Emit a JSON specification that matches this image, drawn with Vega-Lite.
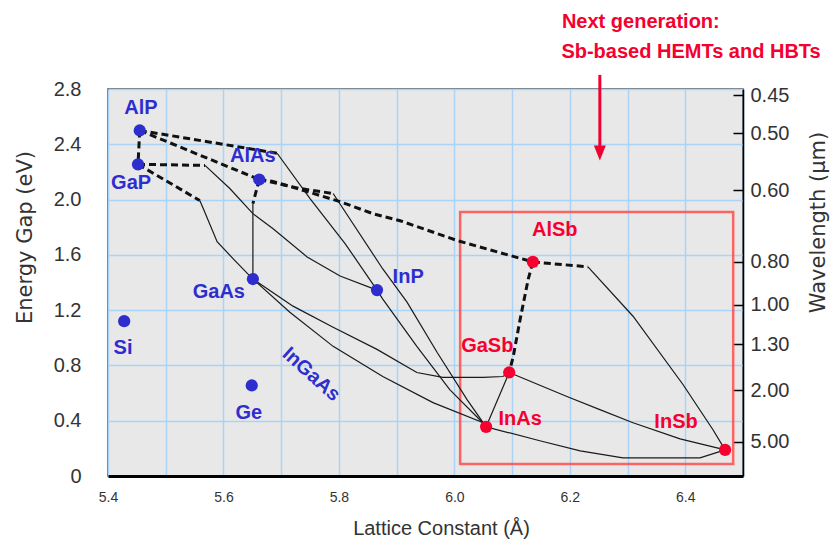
{
  "$schema": "https://vega.github.io/schema/vega-lite/v6.json",
  "width": 635,
  "height": 387,
  "autosize": {"type": "none"},
  "padding": {"left": 108, "top": 89, "right": 88, "bottom": 69},
  "background": "white",
  "config": {
    "view": {"fill": "#e8e8e8", "stroke": "#444444", "strokeWidth": 1.5},
    "font": "Liberation Sans"
  },
  "datasets": {
    "points": [
      {"name": "AlP", "x": 5.455, "y": 2.50, "group": "classic"},
      {"name": "GaP", "x": 5.452, "y": 2.255, "group": "classic"},
      {"name": "AlAs", "x": 5.662, "y": 2.145, "group": "classic"},
      {"name": "GaAs", "x": 5.651, "y": 1.425, "group": "classic"},
      {"name": "InP", "x": 5.866, "y": 1.345, "group": "classic"},
      {"name": "Si", "x": 5.428, "y": 1.12, "group": "classic"},
      {"name": "Ge", "x": 5.649, "y": 0.655, "group": "classic"},
      {"name": "AlSb", "x": 6.136, "y": 1.549, "group": "next"},
      {"name": "GaSb", "x": 6.095, "y": 0.749, "group": "next"},
      {"name": "InAs", "x": 6.055, "y": 0.356, "group": "next"},
      {"name": "InSb", "x": 6.469, "y": 0.189, "group": "next"}
    ],
    "labels": [
      {"text": "AlP", "x": 5.457, "y": 2.663, "group": "classic"},
      {"text": "GaP", "x": 5.440, "y": 2.12, "group": "classic"},
      {"text": "AlAs", "x": 5.651, "y": 2.315, "group": "classic"},
      {"text": "GaAs", "x": 5.592, "y": 1.331, "group": "classic"},
      {"text": "InP", "x": 5.920, "y": 1.44, "group": "classic"},
      {"text": "Si", "x": 5.426, "y": 0.926, "group": "classic"},
      {"text": "Ge", "x": 5.644, "y": 0.456, "group": "classic"},
      {"text": "AlSb", "x": 6.174, "y": 1.78, "group": "next"},
      {"text": "GaSb", "x": 6.057, "y": 0.941, "group": "next"},
      {"text": "InAs", "x": 6.114, "y": 0.412, "group": "next"},
      {"text": "InSb", "x": 6.384, "y": 0.391, "group": "next"}
    ],
    "alloy": [{"text": "InGaAs", "x": 5.752, "y": 0.735, "group": "classic"}],
    "box": [{"x": 6.01, "x2": 6.483, "y": 0.087, "y2": 1.91}],
    "notes": [
      {"text": "Next generation:", "x": 6.323, "y": 3.285},
      {"text": "Sb-based HEMTs and HBTs", "x": 6.41, "y": 3.068}
    ],
    "arrow": [{"x": 6.252, "y": 2.902, "y2": 2.381}],
    "arrowhead": [{"x": 6.252, "y": 2.337}],
    "axisRange": [{"y": 0}, {"y": 2.8}],
    "thin": [
      {"curve": "AlInP", "o": 1, "x": 5.693, "y": 2.335},
      {"curve": "AlInP", "o": 2, "x": 5.750, "y": 2.007},
      {"curve": "AlInP", "o": 3, "x": 5.811, "y": 1.68},
      {"curve": "AlInP", "o": 4, "x": 5.866, "y": 1.345},
      {"curve": "AlInAs", "o": 1, "x": 5.790, "y": 2.044},
      {"curve": "AlInAs", "o": 2, "x": 5.876, "y": 1.498},
      {"curve": "AlInAs", "o": 3, "x": 5.918, "y": 1.258},
      {"curve": "AlInAs", "o": 4, "x": 5.970, "y": 0.895},
      {"curve": "AlInAs", "o": 5, "x": 6.022, "y": 0.553},
      {"curve": "AlInAs", "o": 6, "x": 6.055, "y": 0.356},
      {"curve": "InAsP", "o": 1, "x": 5.866, "y": 1.345},
      {"curve": "InAsP", "o": 2, "x": 5.876, "y": 1.28},
      {"curve": "InAsP", "o": 3, "x": 5.935, "y": 0.938},
      {"curve": "InAsP", "o": 4, "x": 5.992, "y": 0.625},
      {"curve": "InAsP", "o": 5, "x": 6.044, "y": 0.407},
      {"curve": "InAsP", "o": 6, "x": 6.055, "y": 0.356},
      {"curve": "GaInP", "o": 1, "x": 5.568, "y": 2.247},
      {"curve": "GaInP", "o": 2, "x": 5.611, "y": 2.08},
      {"curve": "GaInP", "o": 3, "x": 5.651, "y": 1.898},
      {"curve": "GaInP", "o": 4, "x": 5.686, "y": 1.789},
      {"curve": "GaInP", "o": 5, "x": 5.745, "y": 1.585},
      {"curve": "GaInP", "o": 6, "x": 5.802, "y": 1.447},
      {"curve": "GaInP", "o": 7, "x": 5.866, "y": 1.345},
      {"curve": "GaAsP", "o": 1, "x": 5.559, "y": 1.993},
      {"curve": "GaAsP", "o": 2, "x": 5.565, "y": 1.935},
      {"curve": "GaAsP", "o": 3, "x": 5.589, "y": 1.695},
      {"curve": "GaAsP", "o": 4, "x": 5.617, "y": 1.571},
      {"curve": "GaAsP", "o": 5, "x": 5.651, "y": 1.425},
      {"curve": "AlGaAs", "o": 1, "x": 5.651, "y": 1.971},
      {"curve": "AlGaAs", "o": 2, "x": 5.651, "y": 1.425},
      {"curve": "GaAsSb", "o": 1, "x": 5.651, "y": 1.425},
      {"curve": "GaAsSb", "o": 2, "x": 5.7205, "y": 1.229},
      {"curve": "GaAsSb", "o": 3, "x": 5.790, "y": 1.076},
      {"curve": "GaAsSb", "o": 4, "x": 5.866, "y": 0.916},
      {"curve": "GaAsSb", "o": 5, "x": 5.935, "y": 0.749},
      {"curve": "GaAsSb", "o": 6, "x": 5.980, "y": 0.713},
      {"curve": "GaAsSb", "o": 7, "x": 6.050, "y": 0.713},
      {"curve": "GaAsSb", "o": 8, "x": 6.084, "y": 0.72},
      {"curve": "GaAsSb", "o": 9, "x": 6.095, "y": 0.749},
      {"curve": "InGaAs", "o": 1, "x": 5.651, "y": 1.425},
      {"curve": "InGaAs", "o": 2, "x": 5.715, "y": 1.185},
      {"curve": "InGaAs", "o": 3, "x": 5.790, "y": 0.938},
      {"curve": "InGaAs", "o": 4, "x": 5.876, "y": 0.72},
      {"curve": "InGaAs", "o": 5, "x": 5.963, "y": 0.531},
      {"curve": "InGaAs", "o": 6, "x": 6.050, "y": 0.385},
      {"curve": "InGaAs", "o": 7, "x": 6.055, "y": 0.356},
      {"curve": "GaSb-InAs", "o": 1, "x": 6.095, "y": 0.749},
      {"curve": "GaSb-InAs", "o": 2, "x": 6.055, "y": 0.356},
      {"curve": "InAsSb", "o": 1, "x": 6.055, "y": 0.356},
      {"curve": "InAsSb", "o": 2, "x": 6.148, "y": 0.255},
      {"curve": "InAsSb", "o": 3, "x": 6.218, "y": 0.182},
      {"curve": "InAsSb", "o": 4, "x": 6.292, "y": 0.131},
      {"curve": "InAsSb", "o": 5, "x": 6.4255, "y": 0.131},
      {"curve": "InAsSb", "o": 6, "x": 6.469, "y": 0.189},
      {"curve": "GaInSb", "o": 1, "x": 6.095, "y": 0.749},
      {"curve": "GaInSb", "o": 2, "x": 6.195, "y": 0.575},
      {"curve": "GaInSb", "o": 3, "x": 6.252, "y": 0.48},
      {"curve": "GaInSb", "o": 4, "x": 6.3095, "y": 0.385},
      {"curve": "GaInSb", "o": 5, "x": 6.391, "y": 0.269},
      {"curve": "GaInSb", "o": 6, "x": 6.455, "y": 0.204},
      {"curve": "GaInSb", "o": 7, "x": 6.469, "y": 0.189},
      {"curve": "AlInSb", "o": 1, "x": 6.2315, "y": 1.513},
      {"curve": "AlInSb", "o": 2, "x": 6.3095, "y": 1.156},
      {"curve": "AlInSb", "o": 3, "x": 6.396, "y": 0.662},
      {"curve": "AlInSb", "o": 4, "x": 6.448, "y": 0.335},
      {"curve": "AlInSb", "o": 5, "x": 6.469, "y": 0.189}
    ],
    "dashed": [
      {"curve": "AlGaP", "o": 1, "x": 5.455, "y": 2.50},
      {"curve": "AlGaP", "o": 2, "x": 5.452, "y": 2.255},
      {"curve": "AlInP-ind", "o": 1, "x": 5.455, "y": 2.50},
      {"curve": "AlInP-ind", "o": 2, "x": 5.693, "y": 2.335},
      {"curve": "AlAsP", "o": 1, "x": 5.455, "y": 2.50},
      {"curve": "AlAsP", "o": 2, "x": 5.662, "y": 2.145},
      {"curve": "GaInP-ind", "o": 1, "x": 5.452, "y": 2.255},
      {"curve": "GaInP-ind", "o": 2, "x": 5.568, "y": 2.247},
      {"curve": "GaAsP-ind", "o": 1, "x": 5.452, "y": 2.255},
      {"curve": "GaAsP-ind", "o": 2, "x": 5.559, "y": 1.993},
      {"curve": "AlGaAs-ind", "o": 1, "x": 5.662, "y": 2.145},
      {"curve": "AlGaAs-ind", "o": 2, "x": 5.651, "y": 1.971},
      {"curve": "AlAsSb", "o": 1, "x": 5.662, "y": 2.145},
      {"curve": "AlAsSb", "o": 2, "x": 5.686, "y": 2.131},
      {"curve": "AlAsSb", "o": 3, "x": 5.745, "y": 2.058},
      {"curve": "AlAsSb", "o": 4, "x": 5.802, "y": 1.985},
      {"curve": "AlAsSb", "o": 5, "x": 5.859, "y": 1.898},
      {"curve": "AlAsSb", "o": 6, "x": 5.906, "y": 1.847},
      {"curve": "AlAsSb", "o": 7, "x": 6.006, "y": 1.702},
      {"curve": "AlAsSb", "o": 8, "x": 6.136, "y": 1.549},
      {"curve": "AlInAs-ind", "o": 1, "x": 5.662, "y": 2.145},
      {"curve": "AlInAs-ind", "o": 2, "x": 5.733, "y": 2.08},
      {"curve": "AlInAs-ind", "o": 3, "x": 5.790, "y": 2.044},
      {"curve": "AlInSb-ind", "o": 1, "x": 6.136, "y": 1.549},
      {"curve": "AlInSb-ind", "o": 2, "x": 6.2315, "y": 1.513},
      {"curve": "AlGaSb", "o": 1, "x": 6.136, "y": 1.549},
      {"curve": "AlGaSb", "o": 2, "x": 6.128, "y": 1.425},
      {"curve": "AlGaSb", "o": 3, "x": 6.114, "y": 1.135},
      {"curve": "AlGaSb", "o": 4, "x": 6.102, "y": 0.865},
      {"curve": "AlGaSb", "o": 5, "x": 6.095, "y": 0.749}
    ]
  },
  "layer": [
    {
      "encoding": {
        "x": {
          "field": "x",
          "type": "quantitative",
          "scale": {"domain": [5.4, 6.5], "nice": false, "zero": false},
          "axis": {
            "title": "Lattice Constant (Å)",
            "values": [5.4, 5.5, 5.6, 5.7, 5.8, 5.9, 6.0, 6.1, 6.2, 6.3, 6.4, 6.5],
            "labelExpr": "round(datum.value*10) % 2 == 0 ? format(datum.value, '.1f') : ''",
            "grid": true,
            "gridColor": "#a9d3f7",
            "gridWidth": 1.5,
            "gridOpacity": 1,
            "domain": true,
            "domainColor": "#000000",
            "domainWidth": 3,
            "ticks": false,
            "labelFont": "Liberation Sans",
            "labelFontSize": 14,
            "labelColor": "#333333",
            "labelPadding": 14,
            "labelDx": -11,
            "labelFlush": false,
            "labelOverlap": false,
            "labelBound": false,
            "titleFont": "Liberation Sans",
            "titleFontSize": 20,
            "titleFontWeight": "normal",
            "titleColor": "#333333",
            "titleX": 333,
            "titleY": 52,
            "titleAlign": "center",
            "titleBaseline": "middle"
          }
        },
        "y": {
          "field": "y",
          "type": "quantitative",
          "scale": {"domain": [0, 2.8], "nice": false, "zero": false},
          "axis": {
            "title": "Energy Gap (eV)",
            "values": [0, 0.4, 0.8, 1.2, 1.6, 2.0, 2.4, 2.8],
            "labelExpr": "datum.value == 0 ? '0' : format(datum.value, '.1f')",
            "grid": true,
            "gridColor": "#a9d3f7",
            "gridWidth": 1.5,
            "gridOpacity": 1,
            "domain": false,
            "ticks": false,
            "labelFont": "Liberation Sans",
            "labelFontSize": 20,
            "labelColor": "#333333",
            "labelPadding": 27,
            "labelDy": 2,
            "labelOverlap": false,
            "labelBound": false,
            "titleFont": "DejaVu Sans",
            "titleFontSize": 21,
            "titleFontWeight": "normal",
            "titleColor": "#333333",
            "titleX": -83,
            "titleY": 148,
            "titleAngle": -90,
            "titleAlign": "center",
            "titleBaseline": "middle"
          }
        }
      },
      "layer": [
        {
          "data": {"name": "box"},
          "mark": {"type": "rect", "fill": null, "fillOpacity": 0, "stroke": "#ff4b4b", "strokeOpacity": 0.85, "strokeWidth": 2.5},
          "encoding": {"x2": {"field": "x2"}, "y2": {"field": "y2"}}
        },
        {
          "data": {"name": "thin"},
          "mark": {"type": "line", "color": "#1a1a1a", "strokeWidth": 1.2},
          "encoding": {"detail": {"field": "curve"}, "order": {"field": "o", "type": "quantitative"}}
        },
        {
          "data": {"name": "dashed"},
          "mark": {"type": "line", "color": "#111111", "strokeWidth": 3, "strokeDash": [7, 4]},
          "encoding": {"detail": {"field": "curve"}, "order": {"field": "o", "type": "quantitative"}}
        },
        {
          "data": {"name": "points"},
          "mark": {"type": "circle", "size": 150, "opacity": 1},
          "encoding": {
            "color": {"field": "group", "type": "nominal", "scale": {"domain": ["classic", "next"], "range": ["#2e2ecf", "#f5002f"]}, "legend": null}
          }
        },
        {
          "data": {"name": "labels"},
          "mark": {"type": "text", "font": "Liberation Sans", "fontWeight": "bold", "fontSize": 20, "align": "center", "baseline": "middle"},
          "encoding": {
            "text": {"field": "text"},
            "color": {"field": "group", "type": "nominal", "scale": {"domain": ["classic", "next"], "range": ["#2e2ecf", "#f5002f"]}, "legend": null}
          }
        },
        {
          "data": {"name": "alloy"},
          "mark": {"type": "text", "font": "Liberation Sans", "fontWeight": "bold", "fontSize": 20, "align": "center", "baseline": "middle", "angle": 42},
          "encoding": {
            "text": {"field": "text"},
            "color": {"field": "group", "type": "nominal", "scale": {"domain": ["classic", "next"], "range": ["#2e2ecf", "#f5002f"]}, "legend": null}
          }
        },
        {
          "data": {"name": "notes"},
          "mark": {"type": "text", "font": "Liberation Sans", "fontWeight": "bold", "fontSize": 20, "align": "center", "baseline": "middle", "color": "#f5002f"},
          "encoding": {"text": {"field": "text"}}
        },
        {
          "data": {"name": "arrow"},
          "mark": {"type": "rule", "color": "#ee0033", "strokeWidth": 3},
          "encoding": {"y2": {"field": "y2"}}
        },
        {
          "data": {"name": "arrowhead"},
          "mark": {"type": "point", "shape": "M-1,-1.25L1,-1.25L0,1.25Z", "size": 144, "filled": true, "color": "#ee0033", "opacity": 1}
        }
      ]
    },
    {
      "data": {"name": "axisRange"},
      "mark": {"type": "point", "opacity": 0},
      "encoding": {
        "y": {
          "field": "y",
          "type": "quantitative",
          "scale": {"domain": [0, 2.8], "nice": false, "zero": false},
          "axis": {
            "orient": "right",
            "title": "Wavelength (μm)",
            "values": [2.7556, 2.48, 2.0667, 1.55, 1.24, 0.9538, 0.62, 0.248],
            "labelExpr": "format(1.24/datum.value, '.2f')",
            "grid": false,
            "domain": true,
            "domainColor": "#000000",
            "domainWidth": 1.5,
            "ticks": true,
            "tickColor": "#000000",
            "tickWidth": 1.5,
            "tickSize": -10,
            "labelPadding": 17,
            "labelFont": "Liberation Sans",
            "labelFontSize": 20,
            "labelColor": "#333333",
            "labelOverlap": false,
            "labelBound": false,
            "labelDy": 2,
            "titleFont": "DejaVu Sans",
            "titleFontSize": 21,
            "titleFontWeight": "normal",
            "titleColor": "#333333",
            "titleX": 75,
            "titleY": 133,
            "titleAngle": -90,
            "titleAlign": "center",
            "titleBaseline": "middle"
          }
        }
      }
    }
  ],
  "resolve": {"scale": {"y": "independent"}}
}
